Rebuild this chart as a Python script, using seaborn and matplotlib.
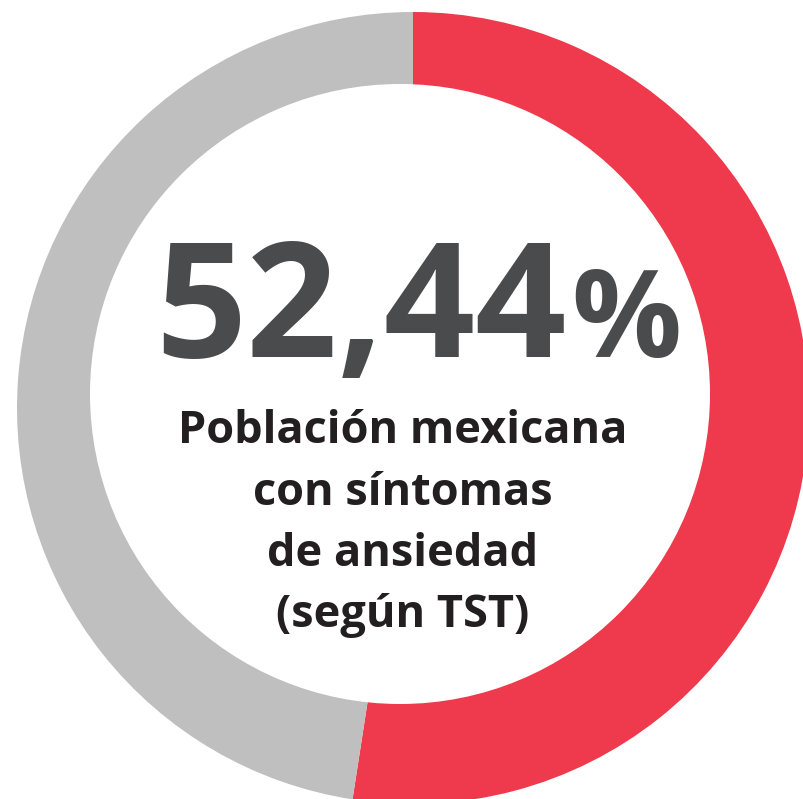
import matplotlib
matplotlib.use("Agg")
import matplotlib.pyplot as plt
from matplotlib.patches import Circle
import seaborn as sns

sns.set_theme(style="white")
plt.rcParams['font.family'] = ['Open Sans', 'DejaVu Sans']

labels = ["Con síntomas de ansiedad", "Sin síntomas"]
values = [52.44, 47.56]
colors = ["#EE3A4C", "#BFBFBF"]
big_number = "52,44"
pct_sign = "%"
subtitle_lines = ["Población mexicana", "con síntomas", "de ansiedad", "(según TST)"]

W, H = 804, 799
fig = plt.figure(figsize=(W / 100, H / 100), dpi=100)
ax = fig.add_axes([0, 0, 1, 1])

ax.pie(values, colors=colors, startangle=90, counterclock=False,
       radius=396, center=(413, H - 408),
       wedgeprops=dict(linewidth=0, antialiased=True))
ax.add_patch(Circle((400, H - 394), 310, facecolor="white", edgecolor="none", zorder=5))

ax.set_xlim(0, W)
ax.set_ylim(0, H)
ax.set_aspect('equal')
ax.axis('off')

ax.text(566, H - 357, big_number, ha='right', va='baseline', fontsize=115,
        fontweight='bold', color="#4A4B4D", zorder=6)
ax.text(571, H - 357, pct_sign, ha='left', va='baseline', fontsize=88,
        fontweight='bold', color="#4A4B4D", zorder=6)

baselines = [443, 505, 566, 627]
for line, yb in zip(subtitle_lines, baselines):
    ax.text(403, H - yb, line, ha='center', va='baseline', fontsize=32.5,
            fontweight='bold', color="#231F20", zorder=6)

fig.savefig("out.png", dpi=100, facecolor="white")
